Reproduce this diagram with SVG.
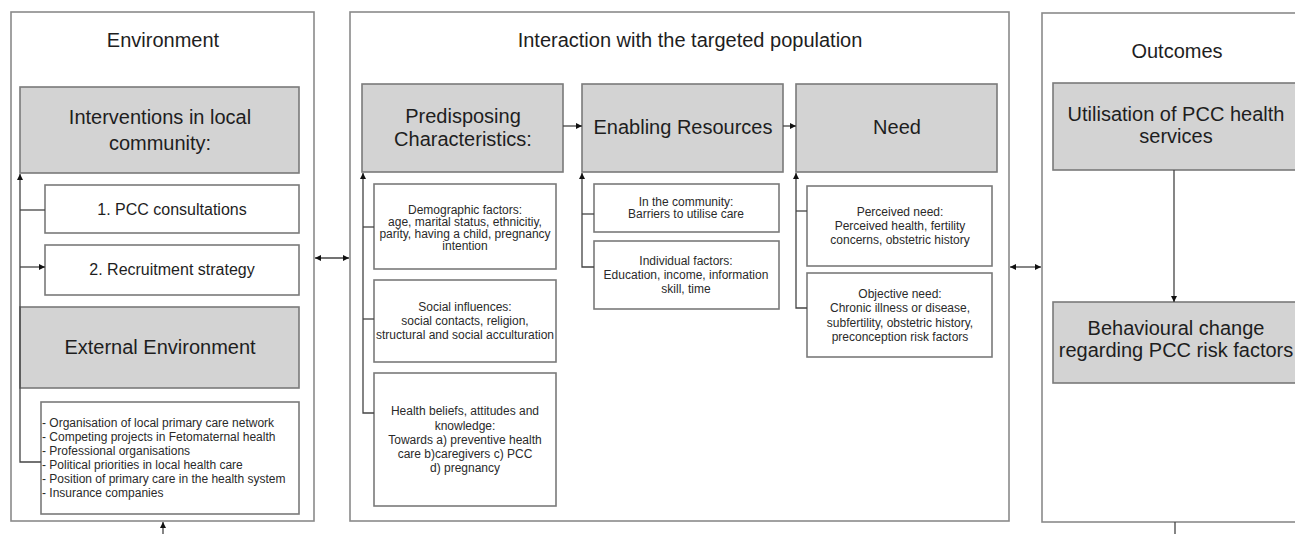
<svg xmlns="http://www.w3.org/2000/svg" width="1295" height="534" viewBox="0 0 1295 534">
<style>
.panel{fill:#fff;stroke:#8a8a8a;stroke-width:1.6}
.hdr{fill:#d3d3d3;stroke:#7a7a7a;stroke-width:1.6}
.box{fill:#fff;stroke:#7a7a7a;stroke-width:1.6}
.t{font-family:"Liberation Sans",Arial,sans-serif;fill:#1e1e1e;text-anchor:middle}
.title{font-size:20px}
.big{font-size:20px}
.mid{font-size:16px}
.sm{font-size:12px;fill:#2a2a2a}
.ls{font-family:"Liberation Sans",Arial,sans-serif;font-size:12px;fill:#2a2a2a}
.c{fill:none;stroke:#444;stroke-width:1.3}
</style>
<defs>
<marker id="ah" viewBox="0 0 10 10" refX="10" refY="5" markerWidth="6" markerHeight="6" markerUnits="userSpaceOnUse" orient="auto-start-reverse">
<path d="M0,0 L10,5 L0,10 Z" fill="#111"/>
</marker>
</defs>
<rect width="1295" height="534" fill="#fff"/>

<g id="panel-environment">
<rect class="panel" x="11" y="12" width="303" height="509"/>
<text class="t title" x="163" y="47">Environment</text>
</g>
<g id="panel-interaction">
<rect class="panel" x="350" y="12" width="659" height="509"/>
<text class="t title" x="690" y="47">Interaction with the targeted population</text>
</g>
<g id="panel-outcomes">
<rect class="panel" x="1042" y="13" width="270" height="509"/>
<text class="t title" x="1177" y="58">Outcomes</text>
</g>

<g id="interventions">
<rect class="hdr" x="20" y="87" width="279" height="86"/>
<text class="t big" x="160" y="124">Interventions in local</text>
<text class="t big" x="160" y="150">community:</text>
</g>
<g id="pcc-consultations">
<rect class="box" x="45" y="185" width="254" height="48"/>
<text class="t mid" x="172" y="215">1. PCC consultations</text>
</g>
<g id="recruitment">
<rect class="box" x="45" y="245" width="254" height="50"/>
<text class="t mid" x="172" y="275">2. Recruitment strategy</text>
</g>
<g id="external-environment">
<rect class="hdr" x="20" y="307" width="279" height="81"/>
<text class="t big" x="160" y="354">External Environment</text>
</g>
<g id="external-list">
<rect class="box" x="41" y="402" width="258" height="112"/>
<text class="ls" x="42" y="427">- Organisation of local primary care network</text>
<text class="ls" x="42" y="441">- Competing projects in Fetomaternal health</text>
<text class="ls" x="42" y="455">- Professional organisations</text>
<text class="ls" x="42" y="469">- Political priorities in local health care</text>
<text class="ls" x="42" y="483">- Position of primary care in the health system</text>
<text class="ls" x="42" y="497">- Insurance companies</text>
</g>

<g id="predisposing">
<rect class="hdr" x="362" y="84" width="201" height="88"/>
<text class="t big" x="463" y="123">Predisposing</text>
<text class="t big" x="463" y="146">Characteristics:</text>
</g>
<g id="demographic">
<rect class="box" x="374" y="184" width="182" height="85"/>
<text class="t sm" x="465" y="214">Demographic factors:</text>
<text class="t sm" x="465" y="226">age, marital status, ethnicitiy,</text>
<text class="t sm" x="465" y="238">parity, having a child, pregnancy</text>
<text class="t sm" x="465" y="250">intention</text>
</g>
<g id="social">
<rect class="box" x="374" y="280" width="182" height="82"/>
<text class="t sm" x="465" y="311">Social influences:</text>
<text class="t sm" x="465" y="325">social contacts, religion,</text>
<text class="t sm" x="465" y="339">structural and social acculturation</text>
</g>
<g id="health-beliefs">
<rect class="box" x="374" y="373" width="182" height="133"/>
<text class="t sm" x="465" y="415">Health beliefs, attitudes and</text>
<text class="t sm" x="465" y="430">knowledge:</text>
<text class="t sm" x="465" y="444">Towards a) preventive health</text>
<text class="t sm" x="465" y="458">care b)caregivers c) PCC</text>
<text class="t sm" x="465" y="472">d) pregnancy</text>
</g>

<g id="enabling">
<rect class="hdr" x="582" y="84" width="201" height="88"/>
<text class="t big" x="683" y="134">Enabling Resources</text>
</g>
<g id="community">
<rect class="box" x="594" y="184" width="185" height="48"/>
<text class="t sm" x="686" y="206">In the community:</text>
<text class="t sm" x="686" y="218">Barriers to utilise care</text>
</g>
<g id="individual">
<rect class="box" x="594" y="241" width="185" height="68"/>
<text class="t sm" x="686" y="265">Individual factors:</text>
<text class="t sm" x="686" y="279">Education, income, information</text>
<text class="t sm" x="686" y="293">skill, time</text>
</g>

<g id="need">
<rect class="hdr" x="796" y="84" width="201" height="88"/>
<text class="t big" x="897" y="134">Need</text>
</g>
<g id="perceived">
<rect class="box" x="807" y="186" width="185" height="80"/>
<text class="t sm" x="900" y="216">Perceived need:</text>
<text class="t sm" x="900" y="230">Perceived health, fertility</text>
<text class="t sm" x="900" y="244">concerns, obstetric history</text>
</g>
<g id="objective">
<rect class="box" x="807" y="273" width="185" height="84"/>
<text class="t sm" x="900" y="298">Objective need:</text>
<text class="t sm" x="900" y="312">Chronic illness or disease,</text>
<text class="t sm" x="900" y="327">subfertility, obstetric history,</text>
<text class="t sm" x="900" y="341">preconception risk factors</text>
</g>

<g id="utilisation">
<rect class="hdr" x="1053" y="83" width="260" height="87"/>
<text class="t big" x="1176" y="121">Utilisation of PCC health</text>
<text class="t big" x="1176" y="143">services</text>
</g>
<g id="behavioural">
<rect class="hdr" x="1053" y="302" width="260" height="81"/>
<text class="t big" x="1176" y="335">Behavioural change</text>
<text class="t big" x="1176" y="357">regarding PCC risk factors</text>
</g>

<g id="connectors">
<path class="c" d="M41,462 H20 V174" marker-end="url(#ah)"/>
<path class="c" d="M20,210 H45"/>
<path class="c" d="M20,267 H45" marker-end="url(#ah)"/>
<path class="c" d="M163,534 V522" marker-end="url(#ah)"/>
<path class="c" d="M315,258 H349" marker-start="url(#ah)" marker-end="url(#ah)"/>
<path class="c" d="M374,413 H363 V173" marker-end="url(#ah)"/>
<path class="c" d="M363,227 H374"/>
<path class="c" d="M363,319 H374"/>
<path class="c" d="M563,126 H582" marker-end="url(#ah)"/>
<path class="c" d="M594,267 H582 V173" marker-end="url(#ah)"/>
<path class="c" d="M582,214 H594"/>
<path class="c" d="M783,126 H796" marker-end="url(#ah)"/>
<path class="c" d="M807,308 H796 V173" marker-end="url(#ah)"/>
<path class="c" d="M796,211 H807"/>
<path class="c" d="M1010,267 H1041" marker-start="url(#ah)" marker-end="url(#ah)"/>
<path class="c" d="M1174,170 V302" marker-end="url(#ah)"/>
<path class="c" d="M1175,522 V534"/>
</g>
</svg>
